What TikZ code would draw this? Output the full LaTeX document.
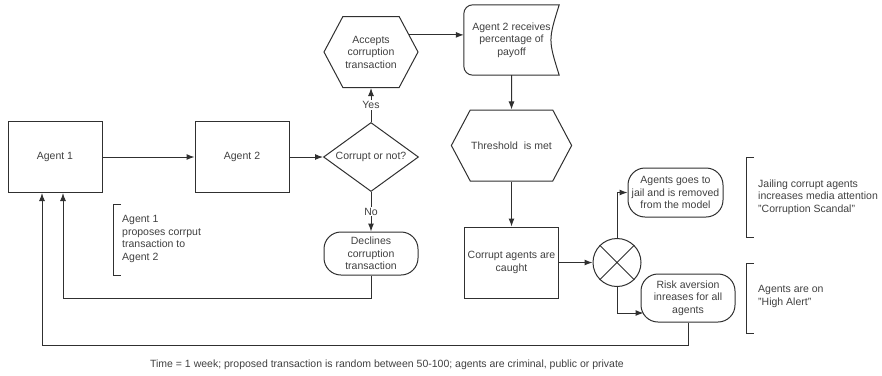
\documentclass[tikz,border=0pt]{standalone}
\usepackage{fontspec}
\setmainfont{Liberation Sans}
\usetikzlibrary{shapes.geometric,shapes.symbols,arrows.meta}
\definecolor{FlowInk}{HTML}{303030}
\definecolor{NoteInk}{HTML}{404040}

\begin{document}
\begin{tikzpicture}[x=1pt, y=-1pt,
	every node/.style={font=\fontsize{10.5pt}{12.5pt}\selectfont, text=NoteInk},
	flow/.style={line width=1pt, draw=FlowInk},
	arrow/.style={flow, -{Latex[length=8pt,width=6pt]}},
	agentbox/.style={flow, rectangle, align=center, minimum width=94pt, minimum height=71pt},
	hexbox/.style={flow, signal, signal to=west and east, signal pointer angle=124,
		minimum width=94pt, minimum height=71pt, align=center, inner sep=1pt},
	pill/.style={flow, rectangle, rounded corners=17pt, align=center, inner sep=1pt},
	choice/.style={fill=white, inner sep=1pt},
	note/.style={anchor=west, align=left, inner sep=0pt}]
	\useasboundingbox (0,0) rectangle (882,375);

	% the two agents and the decision
	\node[agentbox] (agentA) at (55,157) {Agent 1};
	\node[agentbox] (agentB) at (242,157) {Agent 2};
	\node[flow, diamond, aspect=1.38, inner sep=0pt, minimum width=95pt, minimum height=69pt]
		(decide) at (371,157) {Corrupt or not?};
	\node[hexbox] (accept) at (371,52) {Accepts\\corruption\\transaction};
	\node[pill, minimum width=94pt, minimum height=43pt] (decline) at (371,253.5)
		{Declines\\corruption\\transaction};

	% payoff, threshold and getting caught
	\node[minimum width=95pt, minimum height=70pt, align=center, inner sep=0pt]
		(receive) at (511.5,40) {Agent 2 receives\\percentage of\\payoff};
	\draw[flow] (receive.south east) [rounded corners=9pt] -- (receive.south west)
		-- (receive.north west) [sharp corners] -- (receive.north east)
		.. controls ([xshift=-11pt]receive.east) .. (receive.south east) -- cycle;
	\node[hexbox] (thresh) at (511.5,145.5) {Threshold\ \ is met};
	\node[agentbox] (caught) at (511.5,262.5) {Corrupt agents are\\caught};

	% outcomes
	\node[flow, circle, minimum size=48pt, inner sep=0pt] (cross) at (617,262.5) {};
	\draw[flow] (cross.north west) -- (cross.south east)
		(cross.north east) -- (cross.south west);
	\node[pill, minimum width=95pt, minimum height=49pt] (jail) at (675.5,192.5)
		{Agents goes to\\jail and is removed\\from the model};
	\node[pill, minimum width=94pt, minimum height=48pt] (risk) at (688,298)
		{Risk aversion\\inreases for all\\agents};

	% side notes
	\draw[flow] (121,204) -- (113,204) -- (113,275) -- (121,275);
	\node[note] (noteA) at (122,239) {Agent 1\\proposes corrput\\transaction to\\Agent 2};
	\draw[flow] (754,157) -- (746,157) -- (746,237) -- (754,237);
	\node[note] (noteB) at (758,197)
		{Jailing corrupt agents\\increases media attention\\"Corruption Scandal"};
	\draw[flow] (754,263) -- (746,263) -- (746,333) -- (754,333);
	\node[note] (noteC) at (758,296.5) {Agents are on\\"High Alert"};
	\node (footnote) at (387,364.5)
		{Time = 1 week; proposed transaction is random between 50-100; agents are criminal, public or private};

	% connectors
	\draw[arrow] (agentA) -- (agentB);
	\draw[arrow] (agentB) -- (decide);
	\draw[arrow] (decide) -- node[choice] {Yes} (accept);
	\draw[arrow] (decide) -- node[choice] {No} (decline);
	\draw[arrow] (accept.24) -- (accept.24 -| receive.west);
	\draw[arrow] (receive) -- (thresh);
	\draw[arrow] (thresh) -- (caught);
	\draw[arrow] (caught) -- (cross);
	\draw[arrow] (cross) |- (jail);
	\draw[arrow] (cross) |- ([shift={(3pt,-15pt)}]risk.west);
	\draw[arrow] (decline.south) -- ++(0,23) -| ([xshift=8pt]agentA.south);
	\draw[arrow] (risk.south) -- ++(0,23) -| ([xshift=-13pt]agentA.south);
\end{tikzpicture}
\end{document}
